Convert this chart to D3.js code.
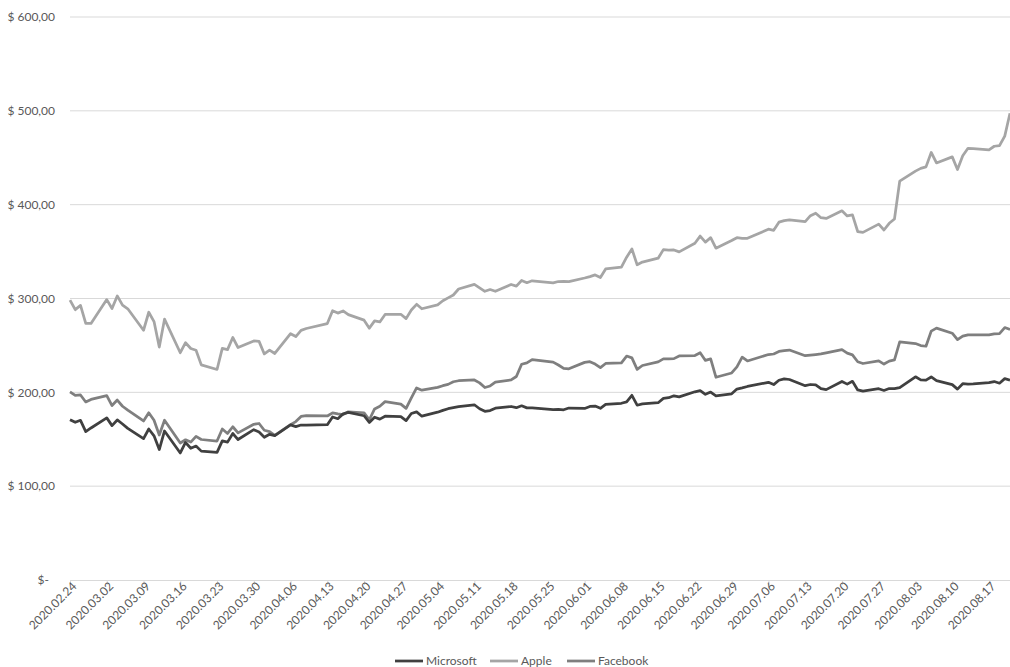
<!DOCTYPE html>
<html>
<head>
<meta charset="utf-8">
<script src="https://cdn.jsdelivr.net/npm/d3@7"></script>
<style>
  body { margin: 0; background: #fff; }
  text { font-family: Lato, "Open Sans", sans-serif; fill: #595959; }
</style>
</head>
<body>
<div id="chart"></div>
<script>
// trading days (closing prices)
var dates = [
  "2020.02.24","2020.02.25","2020.02.26","2020.02.27","2020.02.28",
  "2020.03.02","2020.03.03","2020.03.04","2020.03.05","2020.03.06",
  "2020.03.09","2020.03.10","2020.03.11","2020.03.12","2020.03.13",
  "2020.03.16","2020.03.17","2020.03.18","2020.03.19","2020.03.20",
  "2020.03.23","2020.03.24","2020.03.25","2020.03.26","2020.03.27",
  "2020.03.30","2020.03.31","2020.04.01","2020.04.02","2020.04.03",
  "2020.04.06","2020.04.07","2020.04.08","2020.04.09",
  "2020.04.13","2020.04.14","2020.04.15","2020.04.16","2020.04.17",
  "2020.04.20","2020.04.21","2020.04.22","2020.04.23","2020.04.24",
  "2020.04.27","2020.04.28","2020.04.29","2020.04.30","2020.05.01",
  "2020.05.04","2020.05.05","2020.05.06","2020.05.07","2020.05.08",
  "2020.05.11","2020.05.12","2020.05.13","2020.05.14","2020.05.15",
  "2020.05.18","2020.05.19","2020.05.20","2020.05.21","2020.05.22",
  "2020.05.26","2020.05.27","2020.05.28","2020.05.29",
  "2020.06.01","2020.06.02","2020.06.03","2020.06.04","2020.06.05",
  "2020.06.08","2020.06.09","2020.06.10","2020.06.11","2020.06.12",
  "2020.06.15","2020.06.16","2020.06.17","2020.06.18","2020.06.19",
  "2020.06.22","2020.06.23","2020.06.24","2020.06.25","2020.06.26",
  "2020.06.29","2020.06.30","2020.07.01","2020.07.02",
  "2020.07.06","2020.07.07","2020.07.08","2020.07.09","2020.07.10",
  "2020.07.13","2020.07.14","2020.07.15","2020.07.16","2020.07.17",
  "2020.07.20","2020.07.21","2020.07.22","2020.07.23","2020.07.24",
  "2020.07.27","2020.07.28","2020.07.29","2020.07.30","2020.07.31",
  "2020.08.03","2020.08.04","2020.08.05","2020.08.06","2020.08.07",
  "2020.08.10","2020.08.11","2020.08.12","2020.08.13","2020.08.14",
  "2020.08.17","2020.08.18","2020.08.19","2020.08.20","2020.08.21"
];

var microsoft = [
  170.89,168.07,170.17,158.18,162.01,
  172.79,164.51,170.55,166.27,161.57,
  150.62,160.92,153.63,139.06,158.83,
  135.42,146.57,140.40,142.71,137.35,
  135.98,148.34,146.92,156.11,149.70,
  160.23,157.71,152.11,155.26,153.83,
  165.27,163.49,165.13,165.14,
  165.51,173.70,171.88,177.04,178.60,
  175.06,167.82,173.52,171.42,174.55,
  174.05,169.81,177.43,179.21,174.57,
  178.84,180.76,182.54,183.60,184.68,
  186.74,182.51,179.75,180.53,183.16,
  184.91,183.63,185.66,183.43,183.51,
  181.57,181.81,181.40,183.25,
  182.83,184.91,185.36,182.92,187.20,
  188.36,189.80,196.84,186.27,187.74,
  188.94,193.57,194.24,196.32,195.15,
  200.57,201.91,197.84,200.34,196.33,
  198.44,203.51,204.70,206.26,
  210.70,208.25,212.83,214.32,213.67,
  207.07,208.35,208.04,203.92,202.88,
  211.60,208.75,211.75,202.54,201.30,
  203.85,202.02,204.06,203.90,205.01,
  216.54,213.29,212.94,216.35,212.48,
  208.25,203.38,209.19,208.70,208.90,
  210.28,211.49,209.70,214.58,213.02
];

var apple = [
  298.18,288.08,292.65,273.52,273.36,
  298.81,289.32,302.74,292.92,289.03,
  266.17,285.34,275.43,248.23,277.97,
  242.21,252.86,246.67,244.78,229.24,
  224.37,246.88,245.52,258.44,247.74,
  254.81,254.29,240.91,244.93,241.41,
  262.47,259.43,266.07,267.99,
  273.25,287.05,284.43,286.69,282.80,
  276.93,268.37,276.10,275.03,282.97,
  283.17,278.58,287.73,293.80,289.07,
  293.16,297.56,300.63,303.74,310.13,
  315.01,311.41,307.65,309.54,307.71,
  314.96,313.14,319.23,316.85,318.89,
  316.73,318.11,318.25,317.94,
  321.85,323.34,325.12,322.32,331.50,
  333.46,343.99,352.84,335.90,338.80,
  342.99,352.08,351.59,351.73,349.72,
  358.87,366.53,360.06,364.84,353.63,
  361.78,364.80,364.11,364.11,
  373.85,372.69,381.37,383.01,383.68,
  381.91,388.23,390.90,386.09,385.31,
  393.43,388.00,389.09,371.38,370.46,
  379.24,373.01,380.16,384.76,425.04,
  435.75,438.66,440.25,455.61,444.45,
  450.91,437.50,452.04,460.04,459.63,
  458.43,462.25,462.83,473.10,497.48
];

var facebook = [
  200.39,196.77,197.20,189.75,192.47,
  196.44,185.89,191.76,185.17,181.09,
  169.50,178.19,170.24,154.47,170.28,
  146.01,149.42,146.96,153.13,149.73,
  148.10,160.98,156.21,163.34,156.79,
  165.95,166.80,159.60,158.19,154.18,
  165.55,168.83,174.28,175.19,
  174.79,178.17,176.97,176.25,179.24,
  178.24,170.80,182.28,185.13,190.07,
  187.50,182.91,194.19,204.71,202.27,
  205.26,207.07,208.47,211.26,212.35,
  213.18,210.10,205.10,206.81,210.88,
  213.19,216.88,229.97,231.39,234.91,
  232.20,229.14,225.46,225.09,
  231.91,232.72,230.16,226.29,230.77,
  231.40,238.67,236.73,224.43,228.58,
  232.50,235.65,235.53,235.94,238.79,
  239.22,242.24,234.02,235.68,216.08,
  220.64,227.07,237.55,233.42,
  240.28,240.86,243.58,244.50,245.07,
  239.00,239.73,240.28,240.93,242.03,
  245.42,241.75,239.87,232.60,230.71,
  233.50,230.12,233.29,234.50,253.67,
  251.96,249.83,249.12,265.28,268.44,
  263.00,256.13,259.89,261.30,261.24,
  261.16,262.34,262.59,269.01,267.01
];

var seriesNames = ["Microsoft", "Apple", "Facebook"];
var seriesColors = ["#404040", "#a5a5a5", "#7f7f7f"];

var yTicks = [0, 100, 200, 300, 400, 500, 600];
var xTickLabels = [
  "2020.02.24","2020.03.02","2020.03.09","2020.03.16","2020.03.23","2020.03.30",
  "2020.04.06","2020.04.13","2020.04.20","2020.04.27","2020.05.04","2020.05.11",
  "2020.05.18","2020.05.25","2020.06.01","2020.06.08","2020.06.15","2020.06.22",
  "2020.06.29","2020.07.06","2020.07.13","2020.07.20","2020.07.27","2020.08.03",
  "2020.08.10","2020.08.17"
];

var width = 1010, height = 667;
var margin = { top: 17, right: 0, bottom: 87, left: 70 };
var chart_width = width - margin.left - margin.right,
  chart_height = height - margin.top - margin.bottom;

var parse = d3.utcParse("%Y.%m.%d");
var fmt = d3.utcFormat("%Y.%m.%d");

var svg = d3.select("#chart").append("svg")
  .attr("width", width)
  .attr("height", height);

var g = svg.append("g")
  .attr("transform", "translate(" + margin.left + "," + margin.top + ")");

var xScale = d3.scaleUtc()
  .domain([parse(dates[0]), parse(dates[dates.length - 1])])
  .range([0, chart_width]);
var yScale = d3.scaleLinear().domain([0, 600]).range([chart_height, 0]);

// horizontal gridlines
g.append("g")
  .selectAll("line")
  .data(yTicks.filter(function (d) { return d > 0; }))
  .join("line")
  .attr("x1", 0).attr("x2", chart_width)
  .attr("y1", function (d) { return yScale(d); })
  .attr("y2", function (d) { return yScale(d); })
  .attr("stroke", "#d9d9d9")
  .attr("stroke-width", 1);

// y labels
g.append("g")
  .selectAll("text")
  .data(yTicks)
  .join("text")
  .attr("x", function (d) { return d === 0 ? -21 : -15; })
  .attr("y", function (d) { return yScale(d); })
  .attr("dy", "0.35em")
  .attr("text-anchor", "end")
  .attr("font-size", "12px")
  .text(function (d) { return d === 0 ? "$-" : "$ " + d + ",00"; });

// x axis
var xAxis = d3.axisBottom(xScale)
  .tickValues(xTickLabels.map(parse))
  .tickFormat(fmt)
  .tickSize(5)
  .tickSizeOuter(0);

var ax = g.append("g")
  .attr("transform", "translate(0," + chart_height + ")")
  .call(xAxis);
ax.select(".domain").attr("stroke", "#d9d9d9");
ax.selectAll(".tick line").attr("stroke", "#d9d9d9");
ax.selectAll(".tick text")
  .attr("font-family", "Lato, sans-serif")
  .attr("font-size", "12px")
  .attr("fill", "#595959")
  .attr("text-anchor", "end")
  .attr("transform", "translate(4,4) rotate(-45)")
  .attr("x", 0).attr("y", 0).attr("dy", "0.35em");

// lines
var allSeries = [microsoft, apple, facebook];
var lineGen = d3.line()
  .x(function (d, i) { return xScale(parse(dates[i])); })
  .y(function (d) { return yScale(d); });

// draw Apple first, then Facebook, then Microsoft on top
[1, 2, 0].forEach(function (k) {
  g.append("path")
    .attr("d", lineGen(allSeries[k]))
    .attr("fill", "none")
    .attr("stroke", seriesColors[k])
    .attr("stroke-width", 2.75)
    .attr("stroke-linejoin", "round");
});

// legend
var legendX = [395, 490, 567];
var legend = svg.append("g");
seriesNames.forEach(function (name, i) {
  legend.append("line")
    .attr("x1", legendX[i]).attr("x2", legendX[i] + 28)
    .attr("y1", 661).attr("y2", 661)
    .attr("stroke", seriesColors[i])
    .attr("stroke-width", 2.75);
  legend.append("text")
    .attr("x", legendX[i] + 31)
    .attr("y", 661)
    .attr("dy", "0.35em")
    .attr("font-size", "12px")
    .text(name);
});
</script>
</body>
</html>
